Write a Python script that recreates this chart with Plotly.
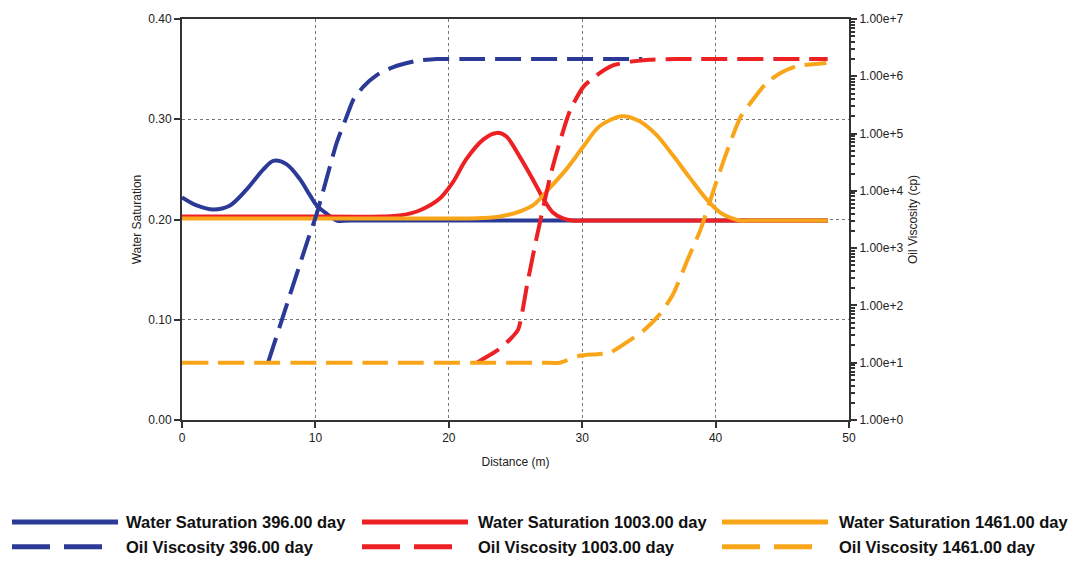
import plotly.graph_objects as go

# ---------------- data ----------------
ws396_x = [0, 1.1, 2.35, 3.6, 4.85, 6.1, 6.85, 7.85, 8.85, 9.6, 10.1, 10.85, 11.6, 12.6, 30.0, 48.4]
ws396_y = [0.222, 0.214, 0.210, 0.214, 0.230, 0.250, 0.2585, 0.255, 0.240, 0.224, 0.214, 0.2057, 0.199, 0.199, 0.199, 0.199]

ws1003_x = [0, 8.0, 15.0, 16.3, 17.8, 19.3, 20.3, 21.3, 22.6, 23.6, 24.3, 25.3, 26.3, 27.1, 27.8, 28.6, 29.3, 30.5, 40.0, 48.4]
ws1003_y = [0.203, 0.203, 0.203, 0.204, 0.209, 0.2206, 0.237, 0.260, 0.280, 0.2864, 0.283, 0.263, 0.240, 0.2205, 0.207, 0.2008, 0.199, 0.199, 0.199, 0.199]

ws1461_x = [0, 10.0, 21.0, 22.5, 23.6, 25.1, 26.3, 27.6, 28.8, 30.1, 31.3, 33.0, 34.3, 35.6, 36.8, 38.1, 39.3, 40.3, 41.3, 41.8, 43.0, 48.4]
ws1461_y = [0.201, 0.201, 0.201, 0.2015, 0.2025, 0.207, 0.214, 0.232, 0.250, 0.273, 0.293, 0.303, 0.298, 0.284, 0.264, 0.241, 0.2205, 0.2074, 0.2008, 0.199, 0.199, 0.199]

ov396_x = [6.45, 9.47, 10.1, 11.6, 12.35, 12.84, 13.6, 14.6, 15.84, 17.6, 19.1, 21.0, 34.5]
ov396_y = [10, 1.48e3, 3.98e3, 6.92e4, 2.0e5, 3.9e5, 6.6e5, 1.05e6, 1.45e6, 1.86e6, 2.0e6, 2.0e6, 2.0e6]

ov1003_x = [22.1, 23.6, 24.6, 25.2, 25.9, 26.6, 27.6, 28.3, 29.1, 30.1, 31.1, 32.3, 33.8, 35.0, 37.0, 48.4]
ov1003_y = [10, 16.2, 25.7, 38, 251, 1585, 1.78e4, 6.9e4, 2.57e5, 6.6e5, 1.05e6, 1.55e6, 1.82e6, 1.95e6, 2.0e6, 2.0e6]

ov1461_x = [0, 14.0, 27.0, 28.3, 29.8, 31.1, 32.1, 33.3, 34.6, 35.8, 36.8, 37.9, 38.9, 39.9, 40.9, 41.9, 42.8, 43.8, 44.8, 46.1, 47.3, 48.3]
ov1461_y = [10, 10, 10, 10, 13.2, 14.1, 15.1, 22.4, 36.3, 69.2, 155, 631, 2190, 1.12e4, 5.25e4, 2.0e5, 3.9e5, 7.6e5, 1.12e6, 1.51e6, 1.62e6, 1.70e6]

days = ["396.00", "1003.00", "1461.00"]
colors = ["#2B3A97", "#ED2024", "#F9A51A"]

# ---------------- figure ----------------
W, H = 1076, 563
L, R, T, B = 182, 849, 15, 420

fig = go.Figure()
ws_sets = [(ws396_x, ws396_y), (ws1003_x, ws1003_y), (ws1461_x, ws1461_y)]
ov_sets = [(ov396_x, ov396_y), (ov1003_x, ov1003_y), (ov1461_x, ov1461_y)]

for (x, y), d, c in zip(ws_sets, days, colors):
    fig.add_trace(go.Scatter(x=x, y=y, mode="lines", name=f"Water Saturation {d} day",
                             line=dict(color=c, width=4, shape="spline", smoothing=0.9),
                             showlegend=False))
for (x, y), d, c in zip(ov_sets, days, colors):
    fig.add_trace(go.Scatter(x=x, y=y, mode="lines", name=f"Oil Viscosity {d} day", yaxis="y2",
                             line=dict(color=c, width=4, dash="26px,10px", shape="spline", smoothing=0.6),
                             showlegend=False))

font = "Liberation Sans, Arial, sans-serif"
axcol = "#333333"

def px2x(px):
    return (px - L) / (R - L)

def py2y(py):
    return (B - py) / (B - T)

shapes = []
annotations = []
leg_cols = [(12, 118, 124), (362, 468, 476), (722, 828, 837)]
for (x0, x1, tx), d, c in zip(leg_cols, days, colors):
    shapes.append(dict(type="line", xref="paper", yref="paper",
                       x0=px2x(x0), x1=px2x(x1), y0=py2y(523), y1=py2y(523),
                       line=dict(color=c, width=5)))
    shapes.append(dict(type="line", xref="paper", yref="paper",
                       x0=px2x(x0), x1=px2x(x1 - 16), y0=py2y(548), y1=py2y(548),
                       line=dict(color=c, width=5, dash="38px,14px")))
    annotations.append(dict(xref="paper", yref="paper", x=px2x(tx), y=py2y(523),
                            xanchor="left", yanchor="middle", showarrow=False,
                            text=f"<b>Water Saturation {d} day</b>",
                            font=dict(family=font, size=16.5, color="#111")))
    annotations.append(dict(xref="paper", yref="paper", x=px2x(tx), y=py2y(548),
                            xanchor="left", yanchor="middle", showarrow=False,
                            text=f"<b>Oil Viscosity {d} day</b>",
                            font=dict(family=font, size=16.5, color="#111")))

fig.update_layout(
    width=W, height=H,
    margin=dict(l=L, r=W - R, t=T, b=H - B, pad=0),
    paper_bgcolor="white", plot_bgcolor="white",
    showlegend=False,
    font=dict(family=font, size=12, color="#222"),
    xaxis=dict(range=[0, 50], dtick=10, tick0=0, ticks="outside", ticklen=6, tickwidth=1.5,
               tickcolor=axcol, showline=True, linecolor=axcol, linewidth=2, mirror=True,
               showgrid=True, gridcolor="#777", griddash="dot", gridwidth=1,
               zeroline=False, tickfont=dict(size=12, color="#222"),
               title=dict(text="Distance (m)", font=dict(size=12, color="#222"), standoff=13)),
    yaxis=dict(range=[0, 0.4], dtick=0.1, tick0=0, tickformat=".2f", ticks="outside", ticklen=6,
               tickwidth=1.5, tickcolor=axcol, showline=True, linecolor=axcol, linewidth=2,
               showgrid=True, gridcolor="#777", griddash="dot", gridwidth=1, zeroline=False,
               tickfont=dict(size=12, color="#222"),
               title=dict(text="Water Saturation", font=dict(size=12, color="#222"), standoff=4)),
    yaxis2=dict(type="log", range=[0, 7], dtick=1, tickformat=".2e", overlaying="y", side="right",
                ticks="outside", ticklen=6, tickwidth=2, tickcolor=axcol,
                showline=True, linecolor=axcol, linewidth=2, showgrid=False, zeroline=False,
                minor=dict(ticks="outside", ticklen=4, tickwidth=1.5, tickcolor=axcol, dtick="D1", showgrid=False),
                tickfont=dict(size=12, color="#222"),
                title=dict(text="Oil Viscosity (cp)", font=dict(size=12, color="#222"), standoff=6)),
    shapes=shapes,
    annotations=annotations,
)

fig.write_html("out.html")
